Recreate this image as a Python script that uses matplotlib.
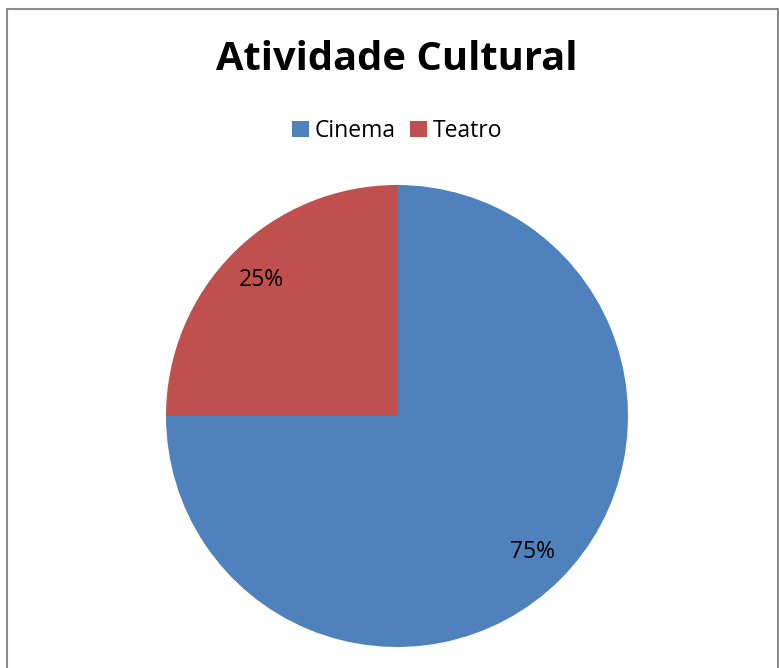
import matplotlib.pyplot as plt
from matplotlib.patches import Rectangle

plt.rcParams['font.family'] = ['Open Sans', 'DejaVu Sans']

categories = ['Cinema', 'Teatro']
shares = [75, 25]
colors = ['#4f81bd', '#c0504d']

fig = plt.figure(figsize=(7.79, 6.68), dpi=100)

# chart frame (open at the bottom edge)
fig.patches.append(Rectangle((7 / 779, -0.1), 771 / 779, 1.1 - 9 / 668,
                             transform=fig.transFigure, fill=False,
                             edgecolor='#8c8c8c', linewidth=1.5))

ax = fig.add_axes([(397 - 231) / 779, (668 - 416 - 231) / 668,
                   462 / 779, 462 / 668])
wedges, texts, autotexts = ax.pie(shares, colors=colors, startangle=90,
                                  counterclock=False, autopct='%d%%',
                                  pctdistance=0.83,
                                  textprops={'fontsize': 16.5, 'color': 'black'})
ax.set_xlim(-1, 1)
ax.set_ylim(-1, 1)
ax.set_aspect('equal')

fig.text(397 / 779, 1 - 60 / 668, 'Atividade Cultural', ha='center',
         va='center', fontsize=28.7, fontweight='bold')

fig.legend(wedges, categories, loc='center', bbox_to_anchor=(397 / 779, 1 - 131 / 668),
           ncol=2, frameon=False, fontsize=16.5, handlelength=0.75, handleheight=0.75,
           handletextpad=0.25, columnspacing=0.6)

fig.savefig('out.png', dpi=100)
